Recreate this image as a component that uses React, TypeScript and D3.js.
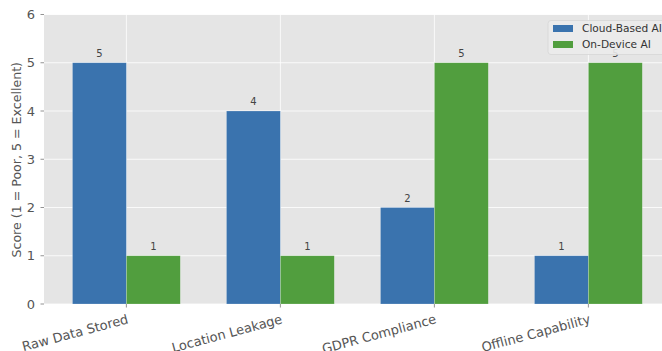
import React from "react";
import * as d3 from "d3";

const categories = ["Raw Data Stored", "Location Leakage", "GDPR Compliance", "Offline Capability"];
const seriesNames = ["Cloud-Based AI", "On-Device AI"];
const cloudValues = [5, 4, 2, 1];
const deviceValues = [1, 1, 5, 5];
const yTicks = [0, 1, 2, 3, 4, 5, 6];
const yLabel = "Score (1 = Poor, 5 = Excellent)";

const W = 662;
const H = 351;
const colors = ["#3A73AE", "#519E3E"];
const FONT = "DejaVu Sans, sans-serif";

export default function App() {
  const left = 44;
  const top = 14.5;
  const bottom = 304;
  const x = d3.scaleLinear().domain([-0.535, 3.535]).range([left, left + 4.07 * 154]);
  const y = d3.scaleLinear().domain([0, 6]).range([bottom, top]);
  const bw = 0.35;
  const series = [cloudValues, deviceValues];
  const right = Math.min(W, x(3.535));

  return (
    <svg width={W} height={H} style={{ position: "fixed", left: 0, top: 0, background: "#fff" }} fontFamily={FONT}>
      <rect x={left} y={top} width={right - left} height={bottom - top} fill="#E5E5E5" />
      {yTicks.map((t) => (
        <line key={"gy" + t} x1={left} x2={right} y1={y(t)} y2={y(t)} stroke="#fff" strokeWidth={0.8} />
      ))}
      {categories.map((c, i) => (
        <line key={"gx" + i} x1={x(i)} x2={x(i)} y1={top} y2={bottom} stroke="#fff" strokeWidth={0.8} />
      ))}
      {series.map((vals, s) =>
        vals.map((v, i) => {
          const x0 = x(i + (s === 0 ? -bw : 0));
          const x1 = x(i + (s === 0 ? 0 : bw));
          return (
            <g key={`b${s}-${i}`}>
              <rect x={x0} y={y(v)} width={x1 - x0} height={y(0) - y(v)} fill={colors[s]} stroke="#ffffff" strokeOpacity={0.35} strokeWidth={0.6} />
              <text x={(x0 + x1) / 2} y={y(v) - 6} textAnchor="middle" fontSize={10} fill="#444">{v}</text>
            </g>
          );
        })
      )}
      {yTicks.map((t) => (
        <g key={"ty" + t}>
          <line x1={left - 3.5} x2={left} y1={y(t)} y2={y(t)} stroke="#777" strokeWidth={0.8} />
          <text x={left - 9} y={y(t)} dy="0.36em" textAnchor="end" fontSize={13} fill="#555">{t}</text>
        </g>
      ))}
      {categories.map((c, i) => (
        <g key={"tx" + i}>
          <line x1={x(i)} x2={x(i)} y1={bottom} y2={bottom + 3.5} stroke="#777" strokeWidth={0.8} />
          <text
            transform={`translate(${x(i)},${bottom + 9}) rotate(-15)`}
            textAnchor="end"
            dy="0.8em"
            fontSize={13}
            fill="#555"
          >
            {c}
          </text>
        </g>
      ))}
      <text transform={`translate(${21},${(top + bottom) / 2 + 0.5}) rotate(-90)`} textAnchor="middle" fontSize={12.6} fill="#555">
        {yLabel}
      </text>
      <g transform="translate(548,20.5)">
        <rect x={0} y={0} width={130} height={34} rx={3} fill="#EBEBEB" fillOpacity={0.9} stroke="#D6D6D6" strokeWidth={0.8} />
        {seriesNames.map((n, k) => (
          <g key={n} transform={`translate(0,${8 + k * 16})`}>
            <rect x={5} y={-3.5} width={20} height={7} fill={colors[k]} />
            <text x={34} y={0} dy="0.35em" fontSize={10.6} fill="#333">{n}</text>
          </g>
        ))}
      </g>
    </svg>
  );
}
